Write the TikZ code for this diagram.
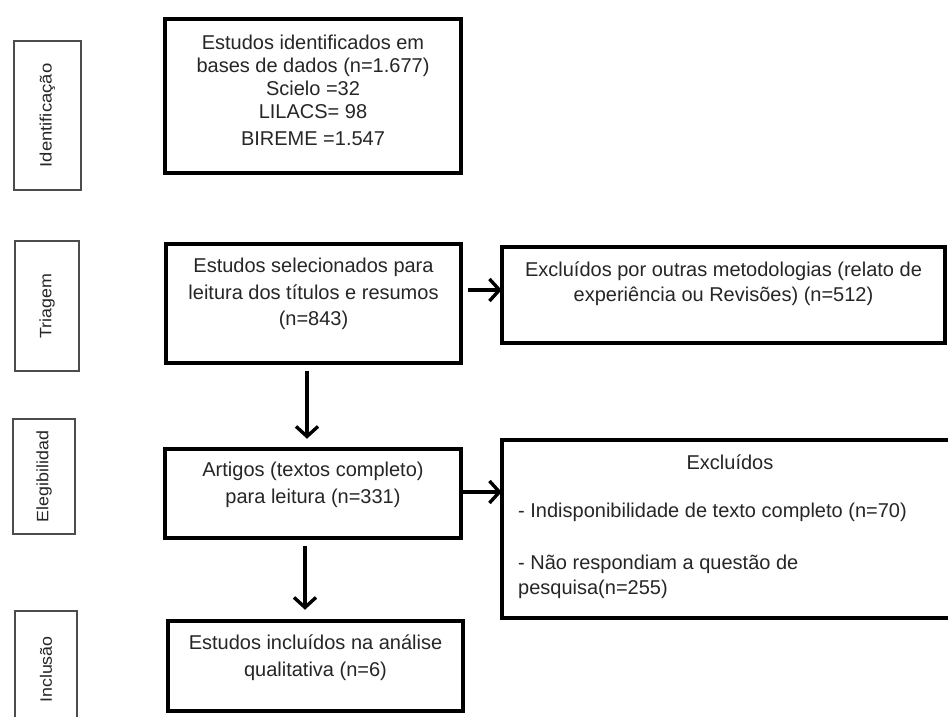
\documentclass[tikz,border=0pt]{standalone}
\usepackage{fontspec}
\setmainfont{Liberation Sans}
\usetikzlibrary{arrows.meta}
\begin{document}
\begin{tikzpicture}[x=1pt,y=1pt,
  mainbox/.style={draw=black, line width=3.6pt, inner sep=0pt, outer sep=0pt},
  sidebox/.style={draw=black!70, line width=1.8pt, inner sep=0pt, outer sep=0pt},
  txt/.style={text=black!85, font=\fontsize{20}{26.5}\selectfont, align=center, inner sep=0pt},
  sidetxt/.style={text=black!85, font=\fontsize{16.5}{18}\selectfont, rotate=90, inner sep=0pt},
  arr/.style={line width=3.4pt, -{Straight Barb[length=10pt,width=22pt]}}
]
\useasboundingbox (0,0) rectangle (948,717);
\clip (0,0) rectangle (948,717);
\fill[white] (0,0) rectangle (948,717);

% main column
\node[mainbox, minimum width=296.5pt, minimum height=154.5pt] (b1) at (313,621) {};
\node[txt, font=\fontsize{20}{23}\selectfont, anchor=north] (t1) at (313,682) {Estudos identificados em\\bases de dados (n=1.677)\\Scielo =32\\LILACS= 98\\[4pt]BIREME =1.547};

\node[mainbox, minimum width=295.5pt, minimum height=119.5pt] (b2) at (313.5,413.5) {};
\node[txt, anchor=north] (t2) at (313.5,459) {Estudos selecionados para\\leitura dos títulos e resumos\\(n=843)};

\node[mainbox, minimum width=296.5pt, minimum height=89.5pt] (b3) at (313,223.5) {};
\node[txt, anchor=north] (t3) at (313,255) {Artigos (textos completo)\\para leitura (n=331)};

\node[mainbox, minimum width=295.5pt, minimum height=90.5pt] (b4) at (315.5,51) {};
\node[txt, anchor=north] (t4) at (315.5,82) {Estudos incluídos na análise\\qualitativa (n=6)};

% right column
\node[mainbox, minimum width=443.5pt, minimum height=96.5pt] (bA) at (723.5,422) {};
\node[txt, font=\fontsize{20}{25}\selectfont, anchor=north] (tA) at (723.5,455) {Excluídos por outras metodologias (relato de\\experiência ou Revisões) (n=512)};

\node[mainbox, minimum width=456.5pt, minimum height=178.5pt] (bB) at (730,188) {};
\node[txt, anchor=north] (tB) at (730,262) {Excluídos};
\node[txt, font=\fontsize{20}{25}\selectfont, align=left, anchor=north west] (tB2) at (518,214) {- Indisponibilidade de texto completo (n=70)\\[27pt]- Não respondiam a questão de\\pesquisa(n=255)};

% side labels
\node[sidebox, minimum width=67pt, minimum height=149pt] (s1) at (47.5,601.5) {};
\node[sidetxt] (l1) at (s1.center) {\scalebox{1.12}[1]{Identificação}};
\node[sidebox, minimum width=64pt, minimum height=130pt] (s2) at (47,411) {};
\node[sidetxt] (l2) at (s2.center) {\scalebox{1.08}[1]{Triagem}};
\node[sidebox, minimum width=62pt, minimum height=115pt] (s3) at (44,240.5) {};
\node[sidetxt] (l3) at (s3.center) {\scalebox{1.08}[1]{Elegibilidad}};
\node[sidebox, minimum width=62pt, minimum height=117pt] (s4) at (46,47.5) {};
\node[sidetxt] (l4) at (s4.center) {\scalebox{1.08}[1]{Inclusão}};

% connectors
\draw[arr] ([xshift=-6.5pt,yshift=-8pt]b2.south) -- ([xshift=-6pt,yshift=10pt]b3.north);
\draw[arr] ([xshift=-8pt,yshift=-8pt]b3.south) -- ([xshift=-10.5pt,yshift=11pt]b4.north);
\draw[arr] ([xshift=7pt,yshift=13.5pt]b2.east) -- ([yshift=5pt]bA.west);
\draw[arr] ([xshift=2pt,yshift=1.5pt]b3.east) -- ([yshift=37pt]bB.west);
\end{tikzpicture}
\end{document}
